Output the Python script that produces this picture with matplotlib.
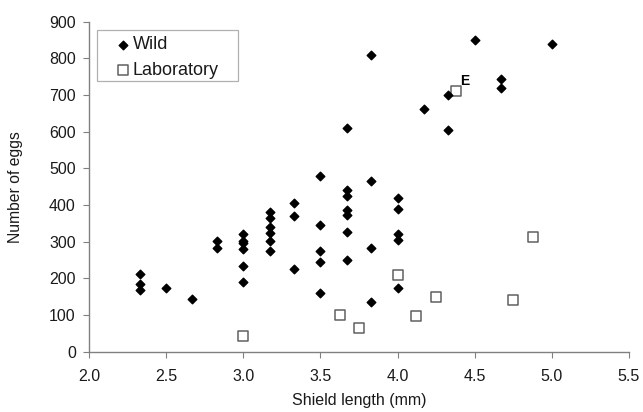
import numpy as np
import matplotlib.pyplot as plt
from matplotlib.patches import Rectangle

plt.rcParams['font.family'] = ['Liberation Sans', 'DejaVu Sans']

# wild animals: shield length (mm), number of eggs
wild_x = [2.33, 2.33, 2.33, 2.5, 2.67, 2.83, 2.83,
          3.0, 3.0, 3.0, 3.0, 3.0, 3.0,
          3.17, 3.17, 3.17, 3.17, 3.17, 3.17,
          3.33, 3.33, 3.33,
          3.5, 3.5, 3.5, 3.5, 3.5,
          3.67, 3.67, 3.67, 3.67, 3.67, 3.67, 3.67,
          3.83, 3.83, 3.83, 3.83,
          4.0, 4.0, 4.0, 4.0, 4.0,
          4.17, 4.33, 4.33, 4.5, 4.67, 4.67, 5.0]
wild_y = [212, 184, 169, 174, 144, 301, 284,
          322, 301, 296, 279, 235, 191,
          380, 366, 339, 324, 302, 275,
          405, 370, 227,
          480, 347, 275, 245, 160,
          610, 442, 426, 386, 374, 327, 251,
          808, 465, 284, 135,
          418, 390, 320, 305, 173,
          663, 700, 606, 850, 743, 720, 839]

# laboratory animals
lab_x = [3.0, 3.63, 3.75, 4.0, 4.12, 4.25, 4.38, 4.75, 4.88]
lab_y = [43, 101, 65, 210, 97, 150, 712, 141, 312]

fig = plt.figure(figsize=(6.43, 4.12), dpi=100)
ax = fig.add_axes([0.1385, 0.146, 0.8395, 0.8015])

ax.scatter(lab_x, lab_y, marker='s', s=50, facecolor='white',
           edgecolor='#606060', linewidth=1.1, label='Laboratory', zorder=2)
ax.scatter(wild_x, wild_y, marker='D', s=19, color='black',
           label='Wild', zorder=3)
ax.text(4.435, 738, 'E', fontsize=10, fontweight='bold', ha='center', va='center')

ax.set_xlim(2.0, 5.5)
ax.set_ylim(0, 900)
xt = np.arange(2.0, 5.51, 0.5)
ax.set_xticks(xt)
ax.set_xticklabels(['%.1f' % v for v in xt])
ax.set_yticks(range(0, 901, 100))

for s in ['top', 'right']:
    ax.spines[s].set_visible(False)
for s in ['left', 'bottom']:
    ax.spines[s].set_color('#808080')
    ax.spines[s].set_linewidth(1.0)
ax.tick_params(direction='out', length=4.5, color='#808080',
               labelsize=11.5, labelcolor='#1a1a1a')
ax.tick_params(axis='x', pad=8)
ax.tick_params(axis='y', pad=5)

ax.set_xlabel('Shield length (mm)', fontsize=11.5, color='#1a1a1a')
ax.set_ylabel('Number of eggs', fontsize=11.3, color='#1a1a1a')
ax.xaxis.set_label_coords(0.5, -0.125)
ax.yaxis.set_label_coords(-0.122, 0.5)

h, l = ax.get_legend_handles_labels()
leg = ax.legend(h[::-1], l[::-1], loc='upper left',
                bbox_to_anchor=(0.046, 0.955), fontsize=13, frameon=False,
                handlelength=1.0, handletextpad=0.05, borderpad=0,
                labelspacing=0.45, borderaxespad=0)
for t in leg.get_texts():
    t.set_color('#1a1a1a')
ax.add_patch(Rectangle((0.0148, 0.821), 0.2616, 0.155, transform=ax.transAxes,
                       facecolor='none', edgecolor='#b0b0b0', linewidth=0.9,
                       clip_on=False, zorder=4))

plt.savefig('out.png', dpi=100)
